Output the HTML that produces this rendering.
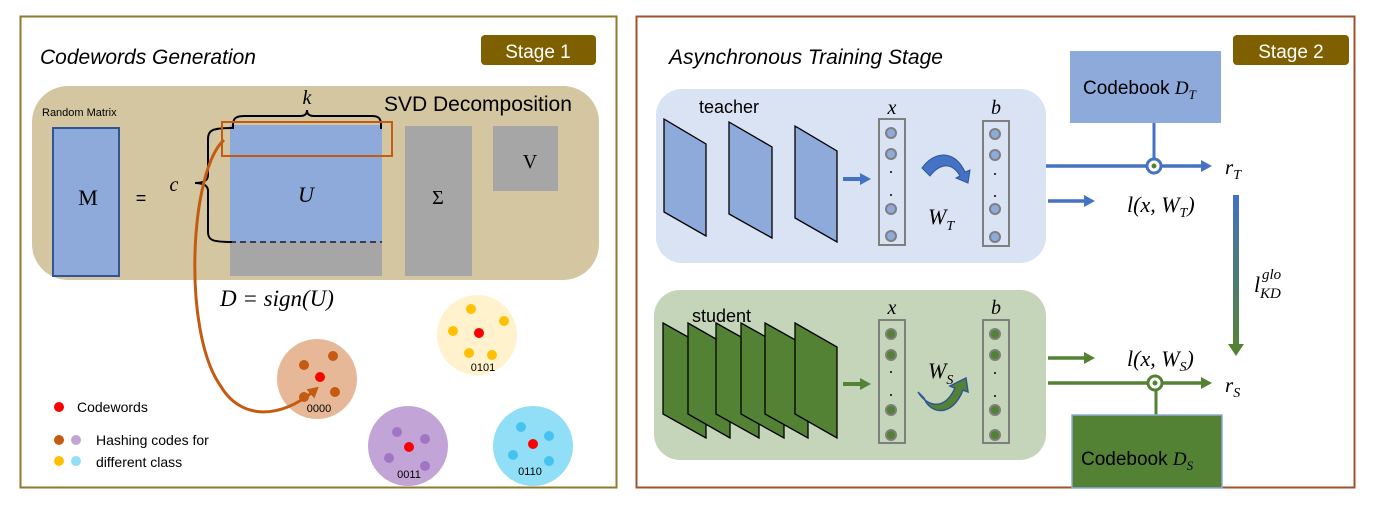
<!DOCTYPE html>
<html><head><meta charset="utf-8"><style>
html,body{margin:0;padding:0;background:#fff;}
svg{display:block;font-family:"Liberation Sans",sans-serif;}
.m{font-family:"Liberation Serif",serif;font-style:italic;}
.r{font-family:"Liberation Serif",serif;}
</style></head><body>
<svg width="1377" height="515" viewBox="0 0 1377 515" xmlns="http://www.w3.org/2000/svg">
<defs>
<marker id="ab" markerWidth="12" markerHeight="12" refX="6" refY="6" orient="auto" markerUnits="userSpaceOnUse"><path d="M0,0 L11,6 L0,12z" fill="#4472c4"/></marker>
<marker id="ag" markerWidth="12" markerHeight="12" refX="6" refY="6" orient="auto" markerUnits="userSpaceOnUse"><path d="M0,0 L11,6 L0,12z" fill="#548235"/></marker>
<marker id="ao" markerWidth="12" markerHeight="12" refX="6" refY="6" orient="auto" markerUnits="userSpaceOnUse"><path d="M0,0 L11,6 L0,12z" fill="#c55a11"/></marker>
<linearGradient id="gr" x1="0" y1="0" x2="0" y2="1"><stop offset="0" stop-color="#4472c4"/><stop offset="1" stop-color="#548235"/></linearGradient>
</defs>
<!-- left panel -->
<rect x="20.5" y="16.5" width="596" height="471" fill="#fff" stroke="#8f7a2e" stroke-width="2"/>
<text x="40" y="64" font-size="21" font-style="italic" fill="#000">Codewords Generation</text>
<rect x="481" y="35" width="115" height="30" rx="4" fill="#7f6000"/>
<text x="538" y="58" font-size="19" fill="#fff" text-anchor="middle">Stage 1</text>
<rect x="32" y="86" width="567" height="194" rx="36" fill="#d3c6a1"/>
<text x="42" y="116" font-size="11">Random Matrix</text>
<rect x="53" y="128" width="66" height="148" fill="#8eaadb" stroke="#2f5597" stroke-width="2"/>
<text x="88" y="205" font-size="22" class="r" text-anchor="middle">M</text>
<text x="141" y="204" font-size="18" text-anchor="middle">=</text>
<text x="174" y="191" font-size="20" class="m" text-anchor="middle">c</text>
<rect x="230" y="125" width="152" height="117" fill="#8eaadb"/>
<rect x="230" y="242" width="152" height="34" fill="#a6a6a6"/>
<line x1="230" y1="242" x2="382" y2="242" stroke="#000" stroke-dasharray="6,4" stroke-width="1.2"/>
<path d="M232,128 C212,128 208,130 208,140 L208,175 C208,181 203,183 195,183 C203,183 208,185 208,191 L208,232 C208,240 212,242 232,242" fill="none" stroke="#000" stroke-width="2"/>
<path d="M233,129 L233,125 C233,118 236,116 245,116 L300,116 C305,116 307,114 307,110 C307,114 309,116 314,116 L372,116 C378,116 381,118 381,125 L381,129" fill="none" stroke="#000" stroke-width="2"/>
<text x="307" y="104" font-size="20" class="m" text-anchor="middle">k</text>
<rect x="222" y="122" width="170" height="34" fill="none" stroke="#c55a11" stroke-width="2"/>
<text x="306" y="202" font-size="22" class="m" text-anchor="middle">U</text>
<text x="384" y="111" font-size="21">SVD Decomposition</text>
<rect x="405" y="126" width="67" height="150" fill="#a6a6a6"/>
<text x="438" y="204" font-size="20" class="r" text-anchor="middle">Σ</text>
<rect x="493" y="126" width="65" height="65" fill="#a6a6a6"/>
<text x="530" y="168" font-size="20" class="r" text-anchor="middle">V</text>
<text x="220" y="306" font-size="23" class="m">D = sign(U)</text>
<ellipse cx="317" cy="379" rx="40" ry="40" fill="#e6b897"/>
<ellipse cx="477" cy="335" rx="40" ry="40" fill="#fff2cc"/>
<ellipse cx="408" cy="446" rx="40" ry="40" fill="#c2a5d6"/>
<ellipse cx="533" cy="446" rx="40" ry="40" fill="#91def7"/>
<g fill="#c55a11"><circle cx="304" cy="365" r="5"/><circle cx="333" cy="356" r="5"/><circle cx="335" cy="392" r="5"/><circle cx="304" cy="397" r="5"/></g>
<g fill="#ffc000"><circle cx="471" cy="309" r="5"/><circle cx="504" cy="321" r="5"/><circle cx="453" cy="331" r="5"/><circle cx="469" cy="353" r="5"/><circle cx="492" cy="355" r="5"/></g>
<g fill="#a275c4"><circle cx="397" cy="432" r="5"/><circle cx="425" cy="439" r="5"/><circle cx="389" cy="458" r="5"/><circle cx="425" cy="466" r="5"/></g>
<g fill="#45c3f0"><circle cx="521" cy="427" r="5"/><circle cx="549" cy="436" r="5"/><circle cx="513" cy="455" r="5"/><circle cx="549" cy="461" r="5"/></g>
<g fill="#f00"><circle cx="320" cy="377" r="5"/><circle cx="479" cy="333" r="5"/><circle cx="409" cy="447" r="5"/><circle cx="533" cy="444" r="5"/></g>
<g font-size="11" text-anchor="middle"><text x="319" y="412">0000</text><text x="483" y="371">0101</text><text x="409" y="478">0011</text><text x="530" y="475">0110</text></g>
<path d="M224,140 C190,170 182,330 220,385 C240,420 280,420 315,390" fill="none" stroke="#c55a11" stroke-width="3" marker-end="url(#ao)"/>
<circle cx="59" cy="407" r="5" fill="#f00"/><text x="77" y="412" font-size="14">Codewords</text>
<circle cx="59" cy="440" r="5" fill="#c55a11"/><circle cx="76" cy="440" r="5" fill="#c2a5d6"/><text x="96" y="445" font-size="14">Hashing codes for</text>
<circle cx="59" cy="461" r="5" fill="#ffc000"/><circle cx="76" cy="461" r="5" fill="#91def7"/><text x="96" y="467" font-size="14">different class</text>

<!-- right panel -->
<rect x="636.5" y="16.5" width="718" height="471" fill="#fff" stroke="#a0522d" stroke-width="2"/>
<text x="669" y="64" font-size="21" font-style="italic">Asynchronous Training Stage</text>
<rect x="1233" y="35" width="116" height="30" rx="4" fill="#7f6000"/>
<text x="1291" y="58" font-size="19" fill="#fff" text-anchor="middle">Stage 2</text>
<rect x="1070" y="51" width="151" height="72" fill="#8eaadb"/>
<text x="1083" y="94" font-size="19">Codebook <tspan class="m">D<tspan font-size="13" dy="5">T</tspan></tspan></text>
<rect x="656" y="89" width="390" height="174" rx="26" fill="#dae3f3"/>
<text x="699" y="113" font-size="18">teacher</text>
<g fill="#8eaadb" stroke="#000" stroke-width="1.3">
<path d="M664,119 L706,144 L706,236 L664,212z"/>
<path d="M729,122 L772,147 L772,238 L729,214z"/>
<path d="M795,126 L837,151 L837,242 L795,218z"/>
</g>
<line x1="843" y1="179" x2="866" y2="179" stroke="#4472c4" stroke-width="4" marker-end="url(#ab)"/>
<g stroke="#7f7f7f" stroke-width="2" fill="none"><rect x="879" y="119" width="26" height="126"/><rect x="983" y="121" width="26" height="125"/></g>
<g fill="#8eaadb" stroke="#7f7f7f" stroke-width="2"><circle cx="891" cy="133" r="5"/><circle cx="891" cy="154" r="5"/><circle cx="891" cy="209" r="5"/><circle cx="891" cy="236" r="5"/><circle cx="995" cy="134" r="5"/><circle cx="995" cy="155" r="5"/><circle cx="995" cy="209" r="5"/><circle cx="995" cy="237" r="5"/></g>
<g fill="#000"><circle cx="891" cy="172" r="1"/><circle cx="891" cy="195" r="1"/><circle cx="995" cy="174" r="1"/><circle cx="995" cy="196" r="1"/></g>
<text x="892" y="114" font-size="20" class="m" text-anchor="middle">x</text>
<text x="996" y="114" font-size="20" class="m" text-anchor="middle">b</text>
<path d="M922,168 C935,150 955,150 965,172 L970,170 L968,183 L956,178 L960,176 C952,162 940,163 930,176z" fill="#4472c4" stroke="#2f5597"/>
<text x="928" y="224" font-size="22" class="m">W<tspan font-size="14" dy="6">T</tspan></text>
<line x1="1046" y1="166" x2="1207" y2="166" stroke="#4472c4" stroke-width="3.5" marker-end="url(#ab)"/>
<line x1="1154" y1="123" x2="1154" y2="160" stroke="#4472c4" stroke-width="3"/>
<circle cx="1154" cy="166" r="7" fill="#fff" stroke="#4472c4" stroke-width="3"/><circle cx="1154" cy="166" r="2.5" fill="#548235"/>
<text x="1225" y="174" font-size="21" class="m">r<tspan font-size="14" dy="5">T</tspan></text>
<line x1="1048" y1="201" x2="1090" y2="201" stroke="#4472c4" stroke-width="3.5" marker-end="url(#ab)"/>
<text x="1127" y="212" font-size="22" class="m">l(x, W<tspan font-size="14" dy="5">T</tspan><tspan dy="-5">)</tspan></text>
<rect x="1233" y="195" width="6" height="150" fill="url(#gr)"/>
<path d="M1228,344 L1244,344 L1236,356z" fill="#548235"/>
<text x="1254" y="292" font-size="22" class="m">l</text>
<text x="1262" y="279" font-size="15" class="m">glo</text>
<text x="1260" y="298" font-size="15" class="m">KD</text>
<rect x="654" y="290" width="392" height="170" rx="26" fill="#c5d5b9"/>
<text x="692" y="322" font-size="18">student</text>
<g fill="#548235" stroke="#000" stroke-width="1.3">
<path d="M663,323 L706,347 L706,438 L663,414z"/>
<path d="M688,323 L730,347 L730,438 L688,414z"/>
<path d="M716,323 L759,347 L759,438 L716,414z"/>
<path d="M741,323 L784,347 L784,438 L741,414z"/>
<path d="M765,323 L808,347 L808,438 L765,414z"/>
<path d="M795,323 L837,347 L837,438 L795,414z"/>
</g>
<line x1="843" y1="384" x2="866" y2="384" stroke="#548235" stroke-width="4" marker-end="url(#ag)"/>
<g stroke="#7f7f7f" stroke-width="2" fill="none"><rect x="879" y="320" width="26" height="123"/><rect x="983" y="320" width="26" height="123"/></g>
<g fill="#548235" stroke="#7f7f7f" stroke-width="2"><circle cx="891" cy="334" r="5"/><circle cx="891" cy="355" r="5"/><circle cx="891" cy="410" r="5"/><circle cx="891" cy="435" r="5"/><circle cx="995" cy="334" r="5"/><circle cx="995" cy="355" r="5"/><circle cx="995" cy="410" r="5"/><circle cx="995" cy="435" r="5"/></g>
<g fill="#000"><circle cx="891" cy="372" r="1"/><circle cx="891" cy="395" r="1"/><circle cx="995" cy="373" r="1"/><circle cx="995" cy="396" r="1"/></g>
<text x="892" y="314" font-size="20" class="m" text-anchor="middle">x</text>
<text x="996" y="314" font-size="20" class="m" text-anchor="middle">b</text>
<path d="M918,392 C928,408 945,410 955,388 L950,386 L966,378 L968,392 L963,390 C952,418 930,414 924,398z" fill="#548235" stroke="#2f5597" stroke-width="1.5"/>
<text x="928" y="378" font-size="22" class="m">W<tspan font-size="14" dy="6">S</tspan></text>
<line x1="1048" y1="358" x2="1090" y2="358" stroke="#548235" stroke-width="3.5" marker-end="url(#ag)"/>
<text x="1127" y="366" font-size="22" class="m">l(x, W<tspan font-size="14" dy="5">S</tspan><tspan dy="-5">)</tspan></text>
<line x1="1048" y1="383" x2="1207" y2="383" stroke="#548235" stroke-width="3.5" marker-end="url(#ag)"/>
<line x1="1156" y1="390" x2="1156" y2="416" stroke="#548235" stroke-width="3"/>
<circle cx="1155" cy="383" r="7" fill="#fff" stroke="#548235" stroke-width="3"/><circle cx="1155" cy="383" r="2.5" fill="#548235"/>
<text x="1225" y="392" font-size="21" class="m">r<tspan font-size="14" dy="5">S</tspan></text>
<rect x="1072" y="415" width="150" height="73" fill="#548235" stroke="#8eaadb" stroke-width="1.5"/>
<text x="1081" y="465" font-size="19">Codebook <tspan class="m">D<tspan font-size="13" dy="5">S</tspan></tspan></text>
</svg>
</body></html>
